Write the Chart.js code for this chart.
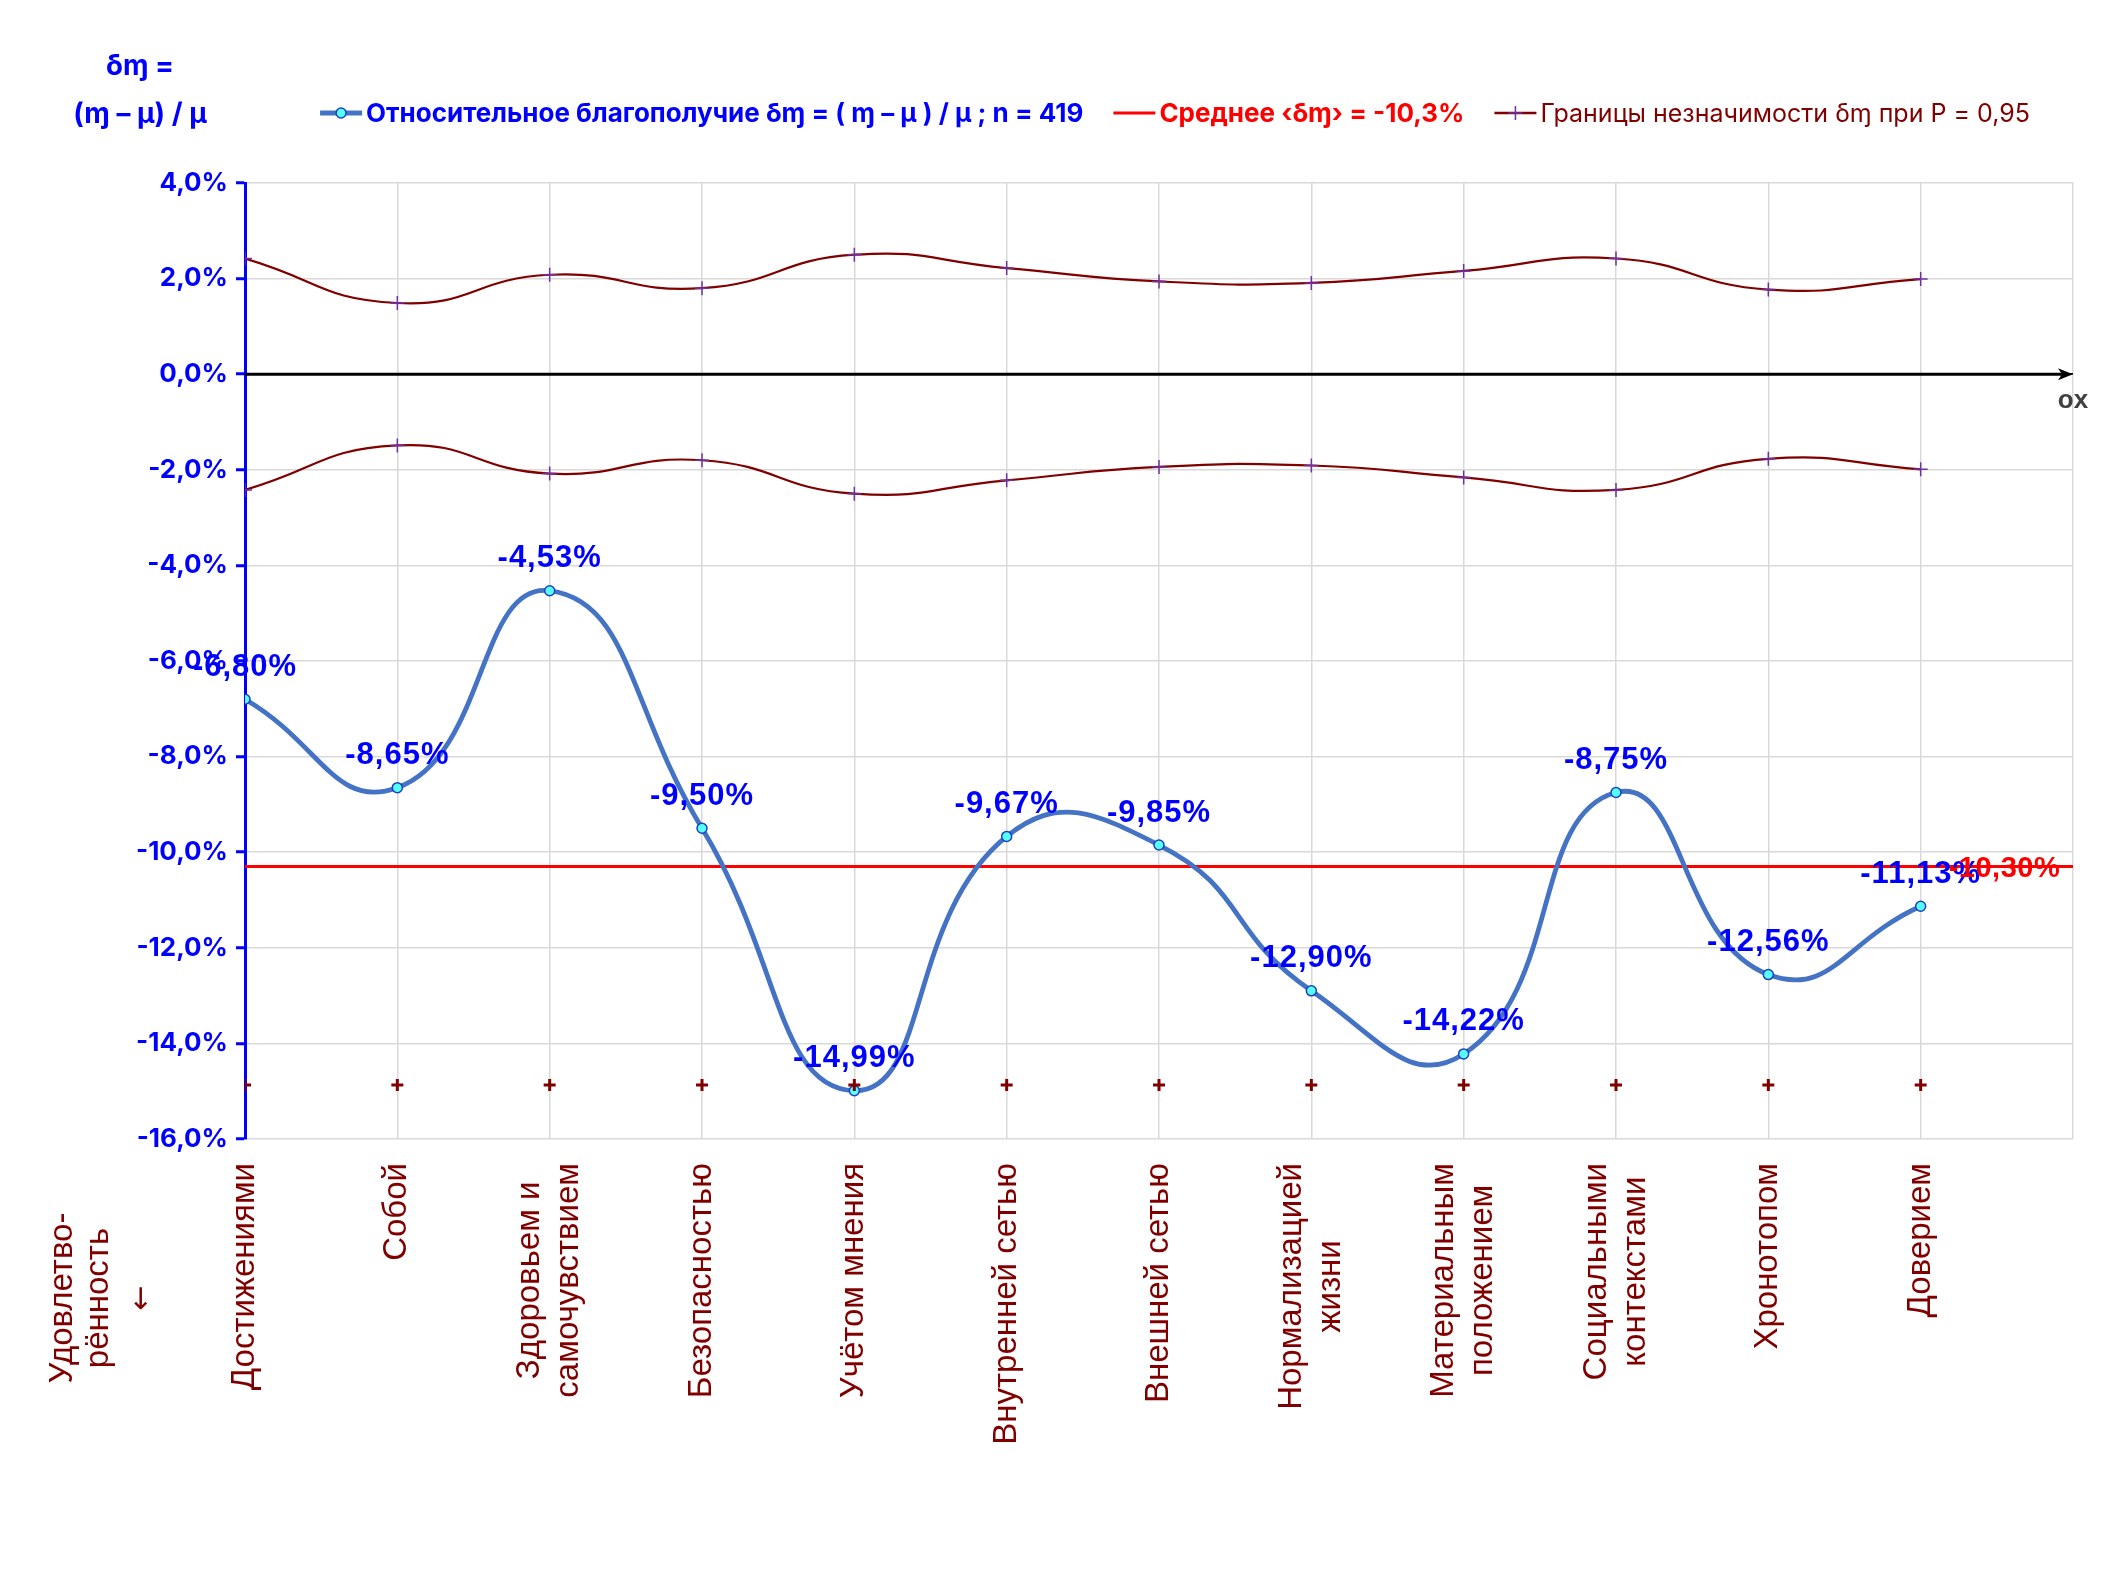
<!DOCTYPE html>
<html>
<head>
<meta charset="utf-8">
<script src="https://cdn.jsdelivr.net/npm/chart.js@4.4.1/dist/chart.umd.min.js"></script>
<style>
  html, body { margin: 0; padding: 0; background: #fff; }
  #wrap { width: 2104px; height: 1571px; }
</style>
</head>
<body>
<div id="wrap"><canvas id="chart"></canvas></div>
<script>
// categories (x axis)
const categories = [
  ["Достижениями"], ["Собой"], ["Здоровьем и", "самочувствием"], ["Безопасностью"],
  ["Учётом мнения"], ["Внутренней сетью"], ["Внешней сетью"], ["Нормализацией", "жизни"],
  ["Материальным", "положением"], ["Социальными", "контекстами"], ["Хронотопом"], ["Доверием"]
];
// relative wellbeing, %
const wellbeing = [-6.80, -8.65, -4.53, -9.50, -14.99, -9.67, -9.85, -12.90, -14.22, -8.75, -12.56, -11.13];
// significance bounds, %
const upperBound = [2.42, 1.49, 2.08, 1.80, 2.50, 2.22, 1.94, 1.91, 2.16, 2.42, 1.77, 1.99];
const lowerBound = [-2.42, -1.49, -2.08, -1.80, -2.50, -2.22, -1.94, -1.91, -2.16, -2.42, -1.77, -1.99];
// mean
const meanValue = -10.3;
// row of "+" marks above the category labels
const markRow = [-14.87, -14.87, -14.87, -14.87, -14.87, -14.87, -14.87, -14.87, -14.87, -14.87, -14.87, -14.87];
// y axis
const yMin = -16, yMax = 4, yStep = 2;
const xMax = 12;

const BLUE = "#0000ff", LINE_BLUE = "#4472c4", MAROON = "#800000", PURPLE = "#7030a0", RED = "#ff0000";

const pts = (arr) => arr.map((v, i) => ({ x: i, y: v }));
const fmt = (v, d) => v.toFixed(d).replace(".", ",") + "%";

// vertical text block, lines centred on each other (like Excel does it)
function drawVerticalBlock(ctx, lines, cx, top, lh) {
  const w = Math.max(...lines.map((t) => ctx.measureText(t).width));
  const cy = top + w / 2;
  lines.forEach((t, j) => {
    ctx.save();
    ctx.translate(cx + (j - (lines.length - 1) / 2) * lh, cy);
    ctx.rotate(-Math.PI / 2);
    ctx.fillText(t, 0, 0);
    ctx.restore();
  });
}

const decor = {
  id: "decor",
  beforeDatasetsDraw(chart) {
    const ctx = chart.ctx, a = chart.chartArea, y = chart.scales.y;
    const y0 = y.getPixelForValue(0);
    ctx.save();
    ctx.strokeStyle = "#000";
    ctx.lineWidth = 3;
    ctx.beginPath();
    ctx.moveTo(a.left, y0);
    ctx.lineTo(a.right - 6, y0);
    ctx.stroke();
    ctx.fillStyle = "#000";
    ctx.beginPath();
    ctx.moveTo(a.right, y0);
    ctx.lineTo(a.right - 15, y0 - 6);
    ctx.lineTo(a.right - 11, y0);
    ctx.lineTo(a.right - 15, y0 + 6);
    ctx.closePath();
    ctx.fill();
    ctx.fillStyle = "#404040";
    ctx.font = "bold 26px 'Liberation Sans'";
    ctx.textAlign = "center";
    ctx.textBaseline = "middle";
    ctx.fillText("ox", a.right, y0 + 27);
    ctx.restore();
  },
  afterDatasetsDraw(chart) {
    const ctx = chart.ctx, a = chart.chartArea;
    const xs = chart.scales.x, ys = chart.scales.y;
    ctx.save();
    // value labels of the main series
    ctx.font = "bold 31px 'Liberation Sans'";
    ctx.letterSpacing = "1px";
    ctx.fillStyle = BLUE;
    ctx.textAlign = "center";
    ctx.textBaseline = "middle";
    wellbeing.forEach((v, i) => {
      ctx.fillText(fmt(v, 2), xs.getPixelForValue(i), ys.getPixelForValue(v) - 32);
    });
    // mean label
    ctx.font = "bold 29px 'Liberation Sans'";
    ctx.letterSpacing = "0.5px";
    ctx.fillStyle = RED;
    ctx.textAlign = "left";
    ctx.fillText(fmt(meanValue, 2), xs.getPixelForValue(wellbeing.length - 1) + 28, ys.getPixelForValue(meanValue) + 2);
    ctx.letterSpacing = "0px";

    // category labels
    ctx.fillStyle = MAROON;
    ctx.font = "33px 'Liberation Sans'";
    ctx.textAlign = "center";
    categories.forEach((lines, i) => {
      drawVerticalBlock(ctx, lines, xs.getPixelForValue(i), a.bottom + 24, 39);
    });

    // left caption under the axis
    const capLines = ["Удовлетво-", "рённость"];
    const capX = [63, 99];
    capLines.forEach((t, i) => {
      ctx.save();
      ctx.translate(capX[i], 1298);
      ctx.rotate(-Math.PI / 2);
      ctx.fillText(t, 0, 0);
      ctx.restore();
    });
    ctx.save();
    ctx.translate(142, 1298);
    ctx.rotate(-Math.PI / 2);
    ctx.font = "30px 'DejaVu Sans'";
    ctx.fillText("←", 0, 0);
    ctx.restore();

    // y axis title
    ctx.fillStyle = BLUE;
    ctx.font = "bold 28px Inter";
    ctx.fillText("δɱ =", 140, 67);
    ctx.fillText("(ɱ – μ) / μ", 140, 115);

    // legend
    const items = [
      { text: "Относительное благополучие δɱ = ( ɱ – μ ) / μ ; n = 419", color: BLUE, font: "bold 26px Inter", kind: "main" },
      { text: "Среднее ‹δɱ› = -10,3%", color: RED, font: "bold 26px Inter", kind: "mean" },
      { text: "Границы незначимости δɱ при P = 0,95", color: MAROON, font: "25px Inter", kind: "bound" }
    ];
    const sample = 42, gapIn = 4, gapOut = 30, ly = 113;
    let total = 0;
    items.forEach((it) => { ctx.font = it.font; it.w = ctx.measureText(it.text).width; total += sample + gapIn + it.w; });
    total += gapOut * (items.length - 1);
    let lx = (a.left + a.right) / 2 - total / 2 + 16;
    items.forEach((it) => {
      ctx.beginPath();
      ctx.moveTo(lx, ly);
      ctx.lineTo(lx + sample, ly);
      if (it.kind === "main") { ctx.strokeStyle = LINE_BLUE; ctx.lineWidth = 5; }
      else if (it.kind === "mean") { ctx.strokeStyle = RED; ctx.lineWidth = 3; }
      else { ctx.strokeStyle = MAROON; ctx.lineWidth = 2.5; }
      ctx.stroke();
      const cx = lx + sample / 2;
      if (it.kind === "main") {
        ctx.beginPath();
        ctx.arc(cx, ly, 5, 0, Math.PI * 2);
        ctx.fillStyle = "#55ffff"; ctx.fill();
        ctx.strokeStyle = "#1f3fbf"; ctx.lineWidth = 1.5; ctx.stroke();
      } else if (it.kind === "bound") {
        ctx.beginPath();
        ctx.moveTo(cx - 7, ly); ctx.lineTo(cx + 7, ly);
        ctx.moveTo(cx, ly - 7); ctx.lineTo(cx, ly + 7);
        ctx.strokeStyle = PURPLE; ctx.lineWidth = 1.5; ctx.stroke();
      }
      ctx.font = it.font;
      ctx.fillStyle = it.color;
      ctx.textAlign = "left";
      ctx.fillText(it.text, lx + sample + gapIn, ly + 1);
      lx += sample + gapIn + it.w + gapOut;
    });
    ctx.restore();
  }
};

new Chart(document.getElementById("chart"), {
  type: "line",
  data: {
    datasets: [
      {
        label: "marks",
        data: pts(markRow),
        showLine: false,
        pointStyle: "cross",
        pointRadius: 6,
        pointBorderColor: MAROON,
        pointBorderWidth: 3
      },
      {
        label: "Относительное благополучие",
        data: pts(wellbeing),
        borderColor: LINE_BLUE,
        borderWidth: 4.8,
        tension: 0.5,
        pointRadius: 5,
        pointBackgroundColor: "#55ffff",
        pointBorderColor: "#1f3fbf",
        pointBorderWidth: 1.5
      },
      {
        label: "Среднее",
        data: [{ x: 0, y: meanValue }, { x: xMax, y: meanValue }],
        borderColor: RED,
        borderWidth: 3,
        pointRadius: 0
      },
      {
        label: "Границы верх",
        data: pts(upperBound),
        borderColor: MAROON,
        borderWidth: 2.2,
        tension: 0.5,
        pointStyle: "cross",
        pointRadius: 7,
        pointBorderColor: PURPLE,
        pointBorderWidth: 1.5
      },
      {
        label: "Границы низ",
        data: pts(lowerBound),
        borderColor: MAROON,
        borderWidth: 2.2,
        tension: 0.5,
        pointStyle: "cross",
        pointRadius: 7,
        pointBorderColor: PURPLE,
        pointBorderWidth: 1.5
      }
    ]
  },
  options: {
    responsive: true,
    maintainAspectRatio: false,
    animation: false,
    layout: { padding: { top: 183, right: 31, left: 0, bottom: 0 } },
    plugins: { legend: { display: false }, tooltip: { enabled: false } },
    scales: {
      x: {
        type: "linear",
        min: 0,
        max: xMax,
        afterFit(scale) {
          scale.height = 432;
          scale.paddingLeft = 0;
          scale.paddingRight = 0;
        },
        border: { display: false },
        grid: { color: "#d9d9d9", lineWidth: 1.5, drawTicks: false },
        ticks: { stepSize: 1, autoSkip: false, display: false }
      },
      y: {
        min: yMin,
        max: yMax,
        afterFit(scale) {
          scale.width = 245;
          scale.paddingTop = 0;
          scale.paddingBottom = 0;
        },
        border: { display: true, color: BLUE, width: 3 },
        grid: {
          color: (c) => c.tick && c.tick.value === 0 ? "#000" : "#d9d9d9",
          lineWidth: 1.5,
          tickColor: BLUE,
          tickLength: 9,
          tickWidth: 3
        },
        ticks: {
          stepSize: yStep,
          padding: 8,
          color: BLUE,
          font: { family: "Inter", size: 26, weight: "bold" },
          callback: (v) => fmt(v, 1)
        }
      }
    }
  },
  plugins: [decor]
});
</script>
</body>
</html>
